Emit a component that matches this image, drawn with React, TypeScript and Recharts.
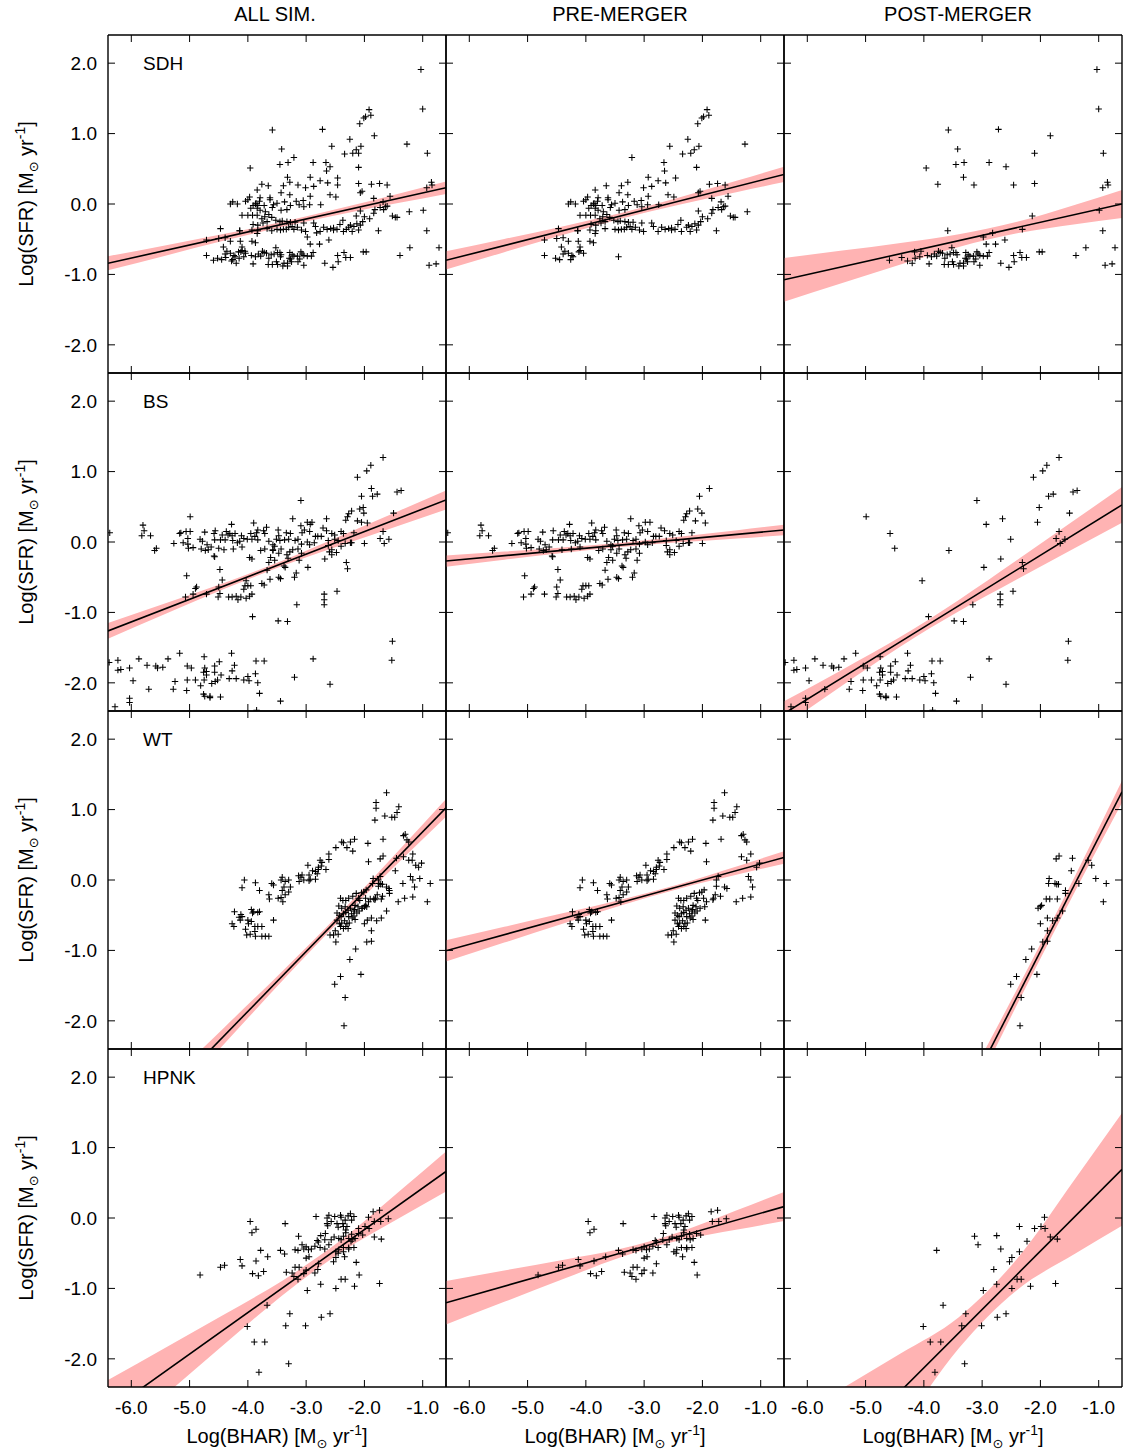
import React from 'react';
import { ComposedChart, XAxis, YAxis, Area, Line, Scatter } from 'recharts';

const FONT = '"Liberation Sans", Arial, Helvetica, sans-serif';
const X_DOMAIN: [number, number] = [-6.4, -0.6];
const Y_DOMAIN: [number, number] = [-2.4, 2.4];
const X_TICKS = [-6, -5, -4, -3, -2, -1];
const Y_TICKS = [-2, -1, 0, 1, 2];
const COLUMNS = ['ALL SIM.', 'PRE-MERGER', 'POST-MERGER'];
const SIMS = ['SDH', 'BS', 'WT', 'HPNK'];
const BAND_X = [-6.4, -5.4, -4.4, -3.4, -2.4, -1.4, -0.6];
const LINE_X = [-6.4, -0.6];

type P = [number, number];

// ---------- SDH ----------
const SDH_PRE: P[] = [
  [-1.92,1.34],[-1.98,1.24],[-2.01,1.22],[-1.89,1.26],[-2.08,1.14],
  [-2.25,0.92],[-2.06,0.82],[-2.14,0.77],[-2.20,0.72],[-2.34,0.71],[-2.56,0.82],[-1.27,0.85],[-2.10,0.52],[-3.21,0.66],[-2.66,0.59],[-2.65,0.47],[-2.46,0.37],[-2.93,0.38],[-2.76,0.33],[-2.63,0.30],[-2.87,0.25],[-3.01,0.23],[-3.28,0.31],[-3.39,0.26],[-3.65,0.26],[-3.84,0.20],[-3.43,0.16],[-3.28,0.13],[-3.62,0.09],[-3.62,0.06],[-3.79,0.09],[-3.80,0.04],[-3.97,0.10],[-4.00,0.06],[-4.04,0.04],[-4.18,0.00],[-4.26,0.03],[-4.30,0.00],
  [-3.87,0.00],[-3.83,-0.02],[-3.91,-0.02],[-3.86,0.01],[-3.95,-0.06],[-3.84,-0.06],
  [-3.72,-0.02],[-3.56,-0.01],[-3.58,-0.05],[-3.50,0.01],[-3.37,0.03],[-3.17,0.04],[-3.05,0.05],[-2.93,0.11],[-2.75,-0.01],[-2.59,0.13],[-2.49,0.10],[-3.27,-0.02],[-3.43,-0.09],[-3.33,-0.08],[-3.79,-0.09],[-2.94,-0.01],[-3.04,-0.04],[-3.12,-0.01],
  [-3.70,-0.11],[-3.64,-0.15],[-3.71,-0.18],[-3.76,-0.21],[-3.84,-0.16],
  [-3.59,-0.19],[-3.52,-0.23],[-3.45,-0.25],[-3.41,-0.24],[-3.33,-0.25],[-3.27,-0.26],[-3.19,-0.26],
  [-3.67,-0.25],[-3.74,-0.27],[-3.91,-0.29],[-3.83,-0.30],
  [-4.10,-0.16],[-4.00,-0.16],[-3.92,-0.16],
  [-4.14,-0.38],[-3.93,-0.37],[-3.84,-0.42],[-3.83,-0.38],
  [-3.67,-0.35],[-3.50,-0.36],[-3.44,-0.37],[-3.39,-0.36],[-3.34,-0.36],[-3.30,-0.33],[-3.24,-0.32],[-3.21,-0.36],[-3.15,-0.33],[-3.08,-0.37],[-3.01,-0.39],[-3.04,-0.27],[-2.87,-0.27],[-2.84,-0.32],[-2.76,-0.39],[-2.70,-0.33],[-2.64,-0.36],[-2.58,-0.35],[-2.53,-0.34],[-2.53,-0.37],[-2.47,-0.36],[-2.42,-0.29],[-2.37,-0.23],[-2.36,-0.39],[-2.27,-0.33],[-2.24,-0.30],[-2.21,-0.39],[-2.18,-0.32],[-2.13,-0.28],[-2.10,-0.37],[-2.07,-0.30],[-2.03,-0.25],[-2.00,-0.18],[-1.91,-0.21],[-1.84,-0.13],[-1.82,-0.08],[-1.76,-0.38],[-1.73,-0.05],[-1.68,0.03],[-1.67,-0.08],[-1.64,-0.04],[-1.61,-0.03],[-1.56,0.11],[-1.52,-0.17],[-1.47,-0.19],[-1.44,-0.19],[-1.23,-0.11],[-1.74,0.29],[-1.61,0.27],[-1.88,0.28],[-2.04,0.18],[-2.07,0.16],[-1.84,0.08],[-2.07,-0.10],
  [-4.71,-0.73],[-4.52,-0.77],[-4.45,-0.79],[-4.39,-0.71],[-4.30,-0.70],[-4.24,-0.73],[-4.22,-0.75],[-4.26,-0.79],[-4.36,-0.67],[-4.42,-0.61],[-4.30,-0.53],[-4.13,-0.53],[-4.10,-0.61],[-4.12,-0.68],[-4.04,-0.70],[-4.10,-0.66],[-3.87,-0.55],[-3.93,-0.53],[-3.44,-0.75],[-4.71,-0.51],[-4.50,-0.49],[-4.39,-0.48],[-4.47,-0.35],[-4.14,-0.38],
];
const SDH_POST: P[] = [
  [-1.03,1.91],[-1.00,1.35],[-3.58,1.05],[-2.72,1.06],[-1.83,0.97],[-3.42,0.78],[-2.10,0.72],[-0.92,0.72],[-3.96,0.51],[-3.45,0.56],[-3.31,0.59],[-2.88,0.59],[-2.59,0.53],[-3.32,0.38],[-3.76,0.28],[-3.14,0.27],[-2.46,0.27],[-2.10,0.29],[-0.85,0.31],[-0.84,0.27],[-0.93,0.23],[-0.99,-0.09],[-0.93,-0.38],[-2.14,-0.17],[-2.31,-0.36],[-3.59,-0.38],[-2.98,-0.47],[-2.82,-0.41],[-2.61,-0.51],[-2.93,-0.57],[-2.77,-0.57],[-0.72,-0.62],[-1.22,-0.62],[-1.39,-0.73],[-2.02,-0.68],[-1.97,-0.68],[-0.89,-0.87],[-0.77,-0.85],[-2.35,-0.69],[-2.46,-0.73],[-2.32,-0.76],[-2.24,-0.76],[-2.45,-0.82],[-2.54,-0.90],[-2.68,-0.84],
  [-4.59,-0.80],[-4.38,-0.76],[-4.28,-0.81],[-4.20,-0.84],[-4.15,-0.77],[-4.16,-0.68],[-4.05,-0.67],[-4.07,-0.75],[-3.94,-0.73],[-3.91,-0.85],[-3.87,-0.75],[-3.82,-0.71],[-3.75,-0.67],[-3.72,-0.69],[-3.78,-0.74],[-3.68,-0.70],[-3.64,-0.77],[-3.60,-0.72],[-3.52,-0.62],[-3.55,-0.71],[-3.51,-0.82],[-3.49,-0.69],[-3.45,-0.69],[-3.43,-0.72],[-3.65,-0.86],[-3.58,-0.86],[-3.49,-0.86],[-3.40,-0.88],[-3.38,-0.84],[-3.32,-0.84],[-3.29,-0.77],[-3.27,-0.78],[-3.28,-0.69],[-3.24,-0.72],[-3.21,-0.74],[-3.15,-0.74],[-3.09,-0.68],[-3.07,-0.71],[-3.04,-0.73],[-3.11,-0.78],[-3.04,-0.87],[-2.98,-0.74],[-2.91,-0.74],[-2.88,-0.69],[-3.32,-0.88],[-3.25,-0.82],[-3.14,-0.82],
];
// line values at x=-6.4 and x=-0.6: [all, pre, post]
const SDH_LINES = [[-0.842, 0.232], [-0.80, 0.42], [-1.077, 0.0]];
const SDH_BAND_LO = [
  [-0.942,-0.73,-0.52,-0.322,-0.146,0.016,0.142],
  [-0.93,-0.684,-0.44,-0.21,-0.01,0.172,0.312],
  [-1.387,-1.121,-0.859,-0.61,-0.416,-0.288,-0.199],
];
const SDH_BAND_HI = [
  [-0.742,-0.585,-0.424,-0.252,-0.058,0.15,0.32],
  [-0.67,-0.496,-0.318,-0.128,0.092,0.332,0.528],
  [-0.767,-0.661,-0.553,-0.43,-0.252,-0.01,0.199],
];

// ---------- BS ----------
const BS_PRE: P[] = [
  [-6.37,0.13],[-5.80,0.24],[-5.78,0.16],[-5.82,0.09],[-5.67,0.09],[-5.57,-0.09],[-5.60,-0.12],[-5.27,-0.02],[-5.17,0.12],[-5.15,0.13],[-5.06,0.15],[-4.99,0.15],[-5.11,-0.01],[-5.03,0.05],[-5.03,-0.03],[-5.02,-0.09],
  [-4.94,-0.08],[-4.82,0.04],[-4.78,0.01],[-4.80,-0.10],[-4.74,0.14],[-4.70,-0.04],[-4.68,-0.11],[-4.58,-0.20],[-4.56,0.16],[-4.57,0.03],[-4.63,-0.07],[-4.47,0.03],[-4.44,0.10],[-4.41,-0.11],[-4.39,0.03],[-4.37,0.15],[-4.34,0.10],[-4.31,0.12],[-4.28,0.25],[-4.27,0.09],[-4.26,0.02],[-4.25,-0.10],[-4.22,0.12],[-4.18,-0.01],[-4.14,0.01],[-4.11,0.09],[-4.10,-0.07],[-4.07,0.05],[-4.01,0.04],[-3.95,0.12],[-3.93,0.04],[-3.90,0.27],[-3.88,0.08],[-3.85,0.13],[-3.83,0.17],[-3.78,-0.12],[-3.73,0.16],[-3.71,0.12],[-3.68,0.21],[-3.64,0.01],[-3.57,-0.04],[-3.54,-0.06],[-3.48,0.17],[-3.47,0.09],[-3.45,0.02],[-3.37,0.03],[-3.34,0.13],[-3.30,0.04],[-3.27,0.12],[-3.23,0.33],[-3.19,0.02],[-3.14,0.04],[-3.09,0.23],[-3.07,0.13],[-3.03,0.17],[-2.98,0.28],[-2.94,0.15],[-2.90,0.28],[-2.86,-0.01],[-2.80,0.08],[-2.71,0.20],[-2.65,0.16],[-2.62,0.02],[-2.56,0.12],[-2.51,0.10],[-2.45,0.02],[-2.40,0.15],[-2.36,0.12],[-2.32,0.31],[-2.29,0.36],[-2.27,0.40],[-2.22,0.44],[-2.18,0.13],[-2.12,0.30],[-2.08,0.47],[-2.01,0.41],[-1.95,0.27],[-2.00,-0.02],[-2.05,0.65],[-1.88,0.76],[-2.22,-0.01],[-2.33,-0.02],
  [-4.57,-0.21],[-4.73,-0.12],[-3.83,0.03],[-3.97,-0.22],[-3.93,-0.24],[-3.71,-0.10],[-3.57,-0.11],[-3.51,0.04],[-3.33,-0.18],[-3.31,-0.23],[-2.60,-0.14],[-2.56,-0.18],[-2.48,-0.15],[-2.56,-0.11],[-2.62,-0.05],[-2.40,-0.06],[-2.24,-0.01],[-3.14,-0.10],[-3.08,-0.03],[-2.98,0.00],[-2.94,-0.04],[-2.84,0.08],[-2.74,0.08],
  [-5.05,-0.48],[-4.88,-0.64],[-4.90,-0.66],[-4.94,-0.74],[-4.71,-0.74],[-5.07,-0.78],[-4.48,-0.39],[-4.44,-0.54],[-4.50,-0.64],[-4.48,-0.73],[-4.51,-0.78],[-4.33,-0.78],[-4.27,-0.78],[-4.20,-0.77],[-4.17,-0.82],[-4.05,-0.62],[-4.00,-0.62],[-3.95,-0.62],[-3.93,-0.74],[-4.03,-0.80],[-3.97,-0.77],[-4.12,-0.78],[-4.07,-0.67],[-3.76,-0.59],[-3.72,-0.61],[-3.62,-0.53],[-3.67,-0.40],[-3.64,-0.29],[-3.61,-0.22],[-3.54,-0.26],[-3.47,-0.50],[-3.44,-0.52],[-3.38,-0.34],[-3.36,-0.36],[-3.20,-0.50],[-3.17,-0.44],[-3.12,-0.26],[-3.08,-0.16],[-3.28,-0.14],[-3.23,-0.11],[-3.43,-0.10],[-3.47,-0.16],
];
const BS_POST: P[] = [
  [-1.68,1.20],[-1.89,1.09],[-1.96,1.01],[-2.12,0.92],[-1.86,0.65],[-1.78,0.68],[-1.44,0.71],[-1.37,0.73],[-3.09,0.59],[-2.02,0.49],[-1.50,0.41],[-4.99,0.36],[-2.65,0.33],[-2.93,0.25],[-2.05,0.28],[-4.58,0.12],[-2.51,0.04],[-1.68,0.15],[-1.73,0.05],[-1.58,0.04],[-1.66,-0.02],[-4.50,-0.09],[-3.57,-0.12],[-2.68,-0.24],[-2.97,-0.36],[-2.31,-0.29],[-2.29,-0.38],[-4.03,-0.55],[-2.47,-0.70],[-2.69,-0.74],[-2.69,-0.82],[-2.69,-0.89],[-3.16,-0.89],[-3.92,-1.06],[-3.48,-1.12],[-3.32,-1.13],[-1.52,-1.41],[-1.53,-1.68],[-2.88,-1.66],[-3.20,-1.92],[-2.59,-2.02],[-3.44,-2.26],[-3.85,-2.39],
  [-6.38,-1.71],[-6.23,-1.68],[-6.23,-1.82],[-6.18,-1.81],[-6.03,-1.79],[-5.87,-1.66],[-5.73,-1.75],[-5.58,-1.76],[-5.55,-1.79],[-5.46,-1.78],[-5.37,-1.66],[-5.17,-1.58],[-5.04,-1.76],[-4.97,-1.79],[-4.75,-1.63],[-4.74,-1.79],[-4.76,-1.85],[-4.71,-1.84],[-4.57,-1.76],[-4.57,-1.85],[-4.49,-1.70],[-4.28,-1.58],[-4.23,-1.75],[-4.27,-1.83],[-5.97,-1.97],[-5.70,-2.09],[-5.28,-2.09],[-5.25,-1.98],[-5.04,-1.96],[-5.05,-2.11],[-4.90,-1.96],[-4.81,-2.04],[-4.75,-1.96],[-4.71,-1.89],[-4.62,-2.01],[-4.56,-1.98],[-4.52,-1.96],[-4.46,-1.89],[-4.32,-1.94],[-4.20,-1.94],[-4.07,-1.96],[-4.00,-1.91],[-3.98,-1.97],[-3.87,-1.87],[-3.86,-1.69],[-3.72,-1.69],[-3.83,-2.00],[-3.80,-2.15],[-4.76,-2.16],[-4.74,-2.19],[-4.65,-2.19],[-4.65,-2.21],[-4.47,-2.20],[-6.03,-2.22],[-6.03,-2.28],[-6.28,-2.34],
];
const BS_LINES = [[-1.263, 0.597], [-0.27, 0.17], [-2.437, 0.527]];
const BS_BAND_LO = [
  [-1.374,-1.016,-0.664,-0.339,-0.047,0.236,0.462],
  [-0.35,-0.252,-0.157,-0.072,-0.005,0.051,0.095],
  [-2.612,-2.038,-1.483,-0.985,-0.529,-0.082,0.272],
];
const BS_BAND_HI = [
  [-1.152,-0.868,-0.58,-0.263,0.087,0.444,0.732],
  [-0.19,-0.136,-0.079,-0.012,0.073,0.167,0.245],
  [-2.262,-1.814,-1.347,-0.823,-0.257,0.318,0.782],
];

// ---------- WT ----------
const WT_PRE: P[] = [
  [-1.62,1.24],[-1.80,1.10],[-1.80,1.02],[-1.82,0.85],[-1.65,0.91],[-1.53,0.89],[-1.48,0.89],[-1.44,0.96],[-1.41,1.04],
  [-1.33,0.63],[-1.30,0.65],[-1.27,0.57],[-1.24,0.54],[-1.68,0.58],[-1.94,0.52],[-1.33,0.33],[-1.17,0.37],[-1.24,0.28],[-1.07,0.18],[-1.02,0.24],[-1.21,0.05],[-1.17,0.00],[-1.14,-0.10],[-1.17,-0.24],[-1.31,-0.26],[-1.42,-0.31],[-1.58,-0.12],[-1.62,-0.10],[-1.69,-0.23],[-1.76,-0.09],[-1.76,0.00],[-1.73,0.05],[-1.82,-0.28],[-1.93,0.26],
  [-2.39,0.54],[-2.36,0.53],[-2.24,0.54],[-2.17,0.58],[-2.30,0.46],[-2.20,0.41],[-2.49,0.46],[-2.61,0.37],[-2.61,0.29],[-2.73,0.25],[-2.76,0.28],[-2.66,0.15],[-2.74,0.20],[-2.79,0.18],[-2.84,0.12],[-2.81,0.09],[-2.89,0.13],[-2.93,0.01],[-2.97,0.21],[-2.95,0.07],[-3.07,0.07],[-3.09,0.04],[-3.13,0.06],[-3.04,0.00],[-3.12,-0.02],[-2.95,-0.01],[-2.84,0.01],[-2.79,0.15],
  [-3.41,0.04],[-3.43,0.00],[-3.36,-0.02],[-3.30,0.00],[-3.27,-0.10],[-3.38,-0.10],[-3.41,-0.15],[-3.36,-0.21],[-3.43,-0.25],[-3.48,-0.26],[-3.59,-0.05],[-3.56,-0.07],[-3.64,-0.21],[-3.63,-0.27],[-3.40,-0.31],[-3.30,-0.17],[-3.80,-0.15],[-3.87,-0.04],[-4.06,0.00],[-4.10,-0.11],[-4.23,-0.45],[-4.12,-0.49],[-4.15,-0.53],[-4.13,-0.57],[-4.10,-0.52],[-4.00,-0.57],[-3.94,-0.42],[-3.92,-0.47],[-3.90,-0.45],[-3.83,-0.46],[-3.80,-0.45],[-3.99,-0.62],[-3.94,-0.59],[-3.88,-0.66],[-3.83,-0.66],[-3.76,-0.66],[-4.27,-0.62],[-4.24,-0.66],[-4.04,-0.70],[-4.02,-0.78],[-3.88,-0.73],[-3.96,-0.77],[-3.87,-0.80],[-3.76,-0.80],[-3.70,-0.80],[-3.64,-0.80],[-3.56,-0.57],
  [-2.41,-0.26],[-2.37,-0.29],[-2.32,-0.29],[-2.27,-0.26],[-2.20,-0.23],[-2.14,-0.19],[-2.10,-0.26],[-2.05,-0.18],[-2.01,-0.17],[-1.97,-0.14],[-1.98,-0.26],[-1.96,-0.38],[-1.93,-0.31],[-1.81,-0.26],[-1.78,-0.21],[-2.44,-0.37],[-2.39,-0.40],[-2.33,-0.38],[-2.28,-0.43],[-2.24,-0.40],[-2.18,-0.44],[-2.11,-0.38],[-2.09,-0.44],[-2.04,-0.40],[-2.47,-0.47],[-2.43,-0.50],[-2.40,-0.52],[-2.36,-0.48],[-2.32,-0.46],[-2.27,-0.52],[-2.22,-0.48],[-2.18,-0.51],[-2.16,-0.56],[-2.13,-0.47],[-2.47,-0.57],[-2.43,-0.62],[-2.39,-0.61],[-2.34,-0.58],[-2.30,-0.62],[-2.26,-0.61],[-2.21,-0.54],[-2.41,-0.66],[-2.36,-0.69],[-2.32,-0.66],[-2.50,-0.72],[-2.45,-0.77],[-2.53,-0.78],[-2.59,-0.78],[-2.49,-0.88],[-2.28,-0.69],[-2.17,-0.42],[-1.95,-0.57],[-2.08,-0.29],[-2.16,-0.36],
];
const WT_POST: P[] = [
  [-1.68,0.34],[-1.73,0.30],[-1.45,0.31],[-1.47,0.13],[-1.18,0.28],[-1.12,0.21],[-1.05,0.02],[-0.87,-0.05],[-0.92,-0.31],[-1.34,-0.05],[-1.85,0.02],[-1.86,-0.05],[-1.75,-0.05],[-1.72,-0.06],[-1.69,-0.06],[-1.57,-0.15],[-1.57,-0.19],[-1.90,-0.27],[-1.84,-0.27],[-1.71,-0.27],[-1.98,-0.36],[-2.00,-0.38],[-2.04,-0.40],[-1.62,-0.44],[-1.88,-0.54],[-1.79,-0.58],[-1.71,-0.54],[-2.00,-0.62],[-1.88,-0.72],[-1.96,-0.88],[-1.88,-0.87],[-2.15,-0.98],[-2.25,-1.13],[-2.06,-1.34],[-2.41,-1.37],[-2.51,-1.48],[-2.33,-1.67],[-2.35,-2.07],
];
const WT_LINES = [[-3.906, 1.024], [-1.005, 0.32], [-8.127, 1.252]];
const WT_BAND_LO = [
  [-4.132,-3.226,-2.322,-1.424,-0.557,0.258,0.898],
  [-1.156,-0.889,-0.623,-0.361,-0.123,0.077,0.231],
  [-8.553,-6.847,-5.144,-3.447,-1.769,-0.152,1.096],
];
const WT_BAND_HI = [
  [-3.68,-2.886,-2.09,-1.288,-0.455,0.43,1.15],
  [-0.854,-0.665,-0.473,-0.279,-0.059,0.197,0.409],
  [-7.701,-6.173,-4.642,-3.105,-1.549,0.068,1.408],
];

// ---------- HPNK ----------
const HPNK_PRE: P[] = [
  [-4.82,-0.81],[-4.47,-0.70],[-4.40,-0.67],[-4.13,-0.59],[-4.10,-0.68],[-3.96,-0.05],[-3.93,-0.21],[-3.86,-0.16],[-3.92,-0.79],[-3.82,-0.82],[-3.73,-0.76],[-3.86,-0.61],[-3.66,-0.55],[-3.44,-0.46],[-3.37,-0.51],[-3.36,-0.08],
  [-3.34,-0.77],[-3.24,-0.78],[-3.21,-0.83],[-3.14,-0.87],[-3.19,-0.70],[-3.12,-0.70],[-3.04,-0.79],[-3.00,-0.74],[-3.00,-0.57],[-2.95,-0.55],[-2.85,-0.78],[-2.79,-0.65],[-3.19,-0.45],[-3.14,-0.46],[-3.04,-0.44],[-3.00,-0.41],[-2.96,-0.45],[-2.91,-0.44],[-2.85,-0.40],[-2.76,-0.42],[-2.81,-0.32],[-2.79,-0.34],[-2.68,-0.31],[-2.61,-0.38],[-2.57,-0.31],[-2.52,-0.27],[-2.44,-0.29],[-2.40,-0.31],[-2.36,-0.26],[-2.32,-0.21],[-2.27,-0.29],[-2.21,-0.31],[-2.16,-0.29],[-2.22,-0.23],[-2.10,-0.22],[-2.03,-0.24],[-2.67,-0.22],[-2.64,-0.08],[-2.63,-0.11],[-2.61,0.04],[-2.57,-0.05],[-2.51,0.02],[-2.47,-0.08],[-2.45,-0.13],[-2.41,0.04],[-2.40,0.01],[-2.37,-0.08],[-2.33,-0.03],[-2.30,-0.12],[-2.28,0.03],[-2.24,0.06],[-2.22,-0.03],[-2.18,0.02],[-2.32,-0.17],[-2.27,-0.42],[-2.18,-0.42],[-2.36,-0.42],[-2.49,-0.48],[-2.45,-0.50],[-2.44,-0.45],[-2.34,-0.55],[-2.27,-0.44],[-2.14,-0.63],[-2.09,-0.81],[-2.83,0.02],[-2.64,0.00],
  [-1.85,0.09],[-1.74,0.11],[-1.83,-0.05],[-1.72,-0.05],[-1.59,-0.01],
];
const HPNK_POST: P[] = [
  [-1.93,0.01],[-2.36,-0.12],[-2.10,-0.15],[-1.99,-0.12],[-1.92,-0.15],[-3.13,-0.26],[-3.07,-0.38],[-2.75,-0.25],[-1.83,-0.27],[-1.71,-0.30],[-2.23,-0.33],[-2.68,-0.44],[-3.78,-0.46],[-2.36,-0.48],[-2.49,-0.56],[-2.53,-0.62],[-2.80,-0.73],[-2.40,-0.87],[-2.33,-0.87],[-2.75,-0.94],[-1.74,-0.93],[-2.98,-1.03],[-2.49,-1.00],[-2.17,-0.97],[-3.67,-1.24],[-3.28,-1.36],[-2.59,-1.36],[-2.74,-1.41],[-3.35,-1.53],[-3.01,-1.53],[-4.01,-1.54],[-3.89,-1.76],[-3.71,-1.76],[-3.30,-2.07],[-3.81,-2.19],
];
const HPNK_LINES = [[-2.758, 0.661], [-1.204, 0.162], [-4.117, 0.691]];
const HPNK_BAND_LO = [
  [-3.214,-2.501,-1.791,-1.092,-0.486,0.001,0.377],
  [-1.514,-1.191,-0.871,-0.556,-0.321,-0.164,-0.044],
  [-5.324,-4.156,-2.992,-1.851,-1.022,-0.505,-0.109],
];
const HPNK_BAND_HI = [
  [-2.302,-1.835,-1.367,-0.886,-0.314,0.379,0.945],
  [-0.894,-0.745,-0.595,-0.438,-0.203,0.112,0.368],
  [-2.91,-2.42,-1.926,-1.409,-0.58,0.561,1.491],
];

const ROWS = [
  { pre: SDH_PRE, post: SDH_POST, lines: SDH_LINES, lo: SDH_BAND_LO, hi: SDH_BAND_HI },
  { pre: BS_PRE, post: BS_POST, lines: BS_LINES, lo: BS_BAND_LO, hi: BS_BAND_HI },
  { pre: WT_PRE, post: WT_POST, lines: WT_LINES, lo: WT_BAND_LO, hi: WT_BAND_HI },
  { pre: HPNK_PRE, post: HPNK_POST, lines: HPNK_LINES, lo: HPNK_BAND_LO, hi: HPNK_BAND_HI },
];

// ---------- layout ----------
const PANEL = 338;
const LEFT0 = 108;
const TOP0 = 35;
const TICK = 7;
const BAND_COLOR = '#ffb3b3';
const AXIS_LINE = { stroke: '#000', strokeWidth: 1.4 };

const plus = (props: any) => {
  const { cx, cy } = props;
  if (cx == null || cy == null || isNaN(cx) || isNaN(cy)) return <g />;
  return (
    <path
      d={`M${cx - 3.2},${cy}H${cx + 3.2}M${cx},${cy - 3.2}V${cy + 3.2}`}
      stroke="#000"
      strokeWidth={1.05}
      fill="none"
    />
  );
};

const bottomTick = (showLabel: boolean) => (props: any) => {
  const { x, y, payload } = props;
  return (
    <g>
      <line x1={x} y1={y} x2={x} y2={y - TICK} stroke="#000" strokeWidth={1} />
      {showLabel && (
        <text x={x} y={y + 26.5} textAnchor="middle" fontSize={19} fontFamily={FONT} fill="#000">
          {Number(payload.value).toFixed(1)}
        </text>
      )}
    </g>
  );
};
const topTick = (props: any) => {
  const { x, y } = props;
  return <line x1={x} y1={y} x2={x} y2={y + TICK} stroke="#000" strokeWidth={1} />;
};
const leftTick = (showLabel: boolean) => (props: any) => {
  const { x, y, payload } = props;
  return (
    <g>
      <line x1={x} y1={y} x2={x + TICK} y2={y} stroke="#000" strokeWidth={1} />
      {showLabel && (
        <text x={x - 11} y={y + 6.8} textAnchor="end" fontSize={19} fontFamily={FONT} fill="#000">
          {Number(payload.value).toFixed(1)}
        </text>
      )}
    </g>
  );
};
const rightTick = (props: any) => {
  const { x, y } = props;
  return <line x1={x} y1={y} x2={x - TICK} y2={y} stroke="#000" strokeWidth={1} />;
};

function Panel({ r, c, points, line, lo, hi }: { r: number; c: number; points: P[]; line: number[]; lo: number[]; hi: number[] }) {
  const LW = c === 0 ? 100 : 1;
  const BH = r === 3 ? 36 : 1;
  const TH = 1;
  const RW = 1;
  const width = LW + PANEL + RW;
  const height = TH + PANEL + BH;
  const left = LEFT0 + PANEL * c - LW;
  const top = TOP0 + PANEL * r - TH;
  const pts = points.map(([x, y]) => ({ x, y }));
  const lineData = LINE_X.map((x, i) => ({ x, y: line[i] }));
  const bandData = BAND_X.map((x, i) => ({ x, band: [lo[i], hi[i]] }));
  return (
    <div style={{ position: 'absolute', left, top, width, height }}>
      <ComposedChart width={width} height={height} margin={{ top: 0, right: 0, bottom: 0, left: 0 }}>
        <XAxis
          xAxisId="b" orientation="bottom" type="number" dataKey="x" domain={X_DOMAIN} ticks={X_TICKS}
          allowDataOverflow height={BH} interval={0} tickSize={0} tickMargin={0} tickLine={false}
          axisLine={AXIS_LINE} tick={bottomTick(r === 3)}
        />
        <XAxis
          xAxisId="t" orientation="top" type="number" dataKey="x" domain={X_DOMAIN} ticks={X_TICKS}
          allowDataOverflow height={TH} interval={0} tickSize={0} tickMargin={0} tickLine={false}
          axisLine={AXIS_LINE} tick={topTick}
        />
        <YAxis
          yAxisId="l" orientation="left" type="number" dataKey="y" domain={Y_DOMAIN} ticks={Y_TICKS}
          allowDataOverflow width={LW} interval={0} tickSize={0} tickMargin={0} tickLine={false}
          axisLine={AXIS_LINE} tick={leftTick(c === 0)}
        />
        <YAxis
          yAxisId="r" orientation="right" type="number" dataKey="y" domain={Y_DOMAIN} ticks={Y_TICKS}
          allowDataOverflow width={RW} interval={0} tickSize={0} tickMargin={0} tickLine={false}
          axisLine={AXIS_LINE} tick={rightTick}
        />
        <Area
          xAxisId="b" yAxisId="l" data={bandData} dataKey="band" type="monotone"
          stroke="none" fill={BAND_COLOR} fillOpacity={1} isAnimationActive={false}
        />
        <Line
          xAxisId="b" yAxisId="l" data={lineData} dataKey="y" type="linear"
          stroke="#000" strokeWidth={1.6} dot={false} activeDot={false} isAnimationActive={false}
        />
        <Scatter xAxisId="b" yAxisId="l" data={pts} shape={plus} isAnimationActive={false} />
      </ComposedChart>
    </div>
  );
}

function Titles() {
  const sub = { fontSize: 13, fontFamily: '"DejaVu Sans", sans-serif' };
  return (
    <svg
      width={1123}
      height={1454}
      style={{ position: 'absolute', left: 0, top: 0, pointerEvents: 'none' }}
    >
      <g fontFamily={FONT} fill="#000" fontSize={20}>
        {COLUMNS.map((t, c) => (
          <text key={t} x={LEFT0 + PANEL * c + 169 + (c === 0 ? -2 : 5)} y={21} textAnchor="middle">
            {t}
          </text>
        ))}
        {SIMS.map((s, r) => (
          <text key={s} x={143} y={70 + PANEL * r} fontSize={19}>
            {s}
          </text>
        ))}
        {SIMS.map((s, r) => (
          <text key={'yl' + s} transform={`translate(33, ${TOP0 + PANEL * r + 169}) rotate(-90)`} textAnchor="middle">
            Log(SFR) [M
            <tspan dy={5} {...sub}>⊙</tspan>
            <tspan dy={-5}> yr</tspan>
            <tspan dy={-8} fontSize={14}>-1</tspan>
            <tspan dy={8}>]</tspan>
          </text>
        ))}
        {COLUMNS.map((t, c) => (
          <text key={'xl' + t} x={LEFT0 + PANEL * c + 169} y={1443} textAnchor="middle">
            Log(BHAR) [M
            <tspan dy={5} {...sub}>⊙</tspan>
            <tspan dy={-5}> yr</tspan>
            <tspan dy={-8} fontSize={14}>-1</tspan>
            <tspan dy={8}>]</tspan>
          </text>
        ))}
      </g>
    </svg>
  );
}

export default function App() {
  return (
    <div style={{ position: 'absolute', left: 0, top: 0, width: 1123, height: 1454, background: '#fff' }}>
      {ROWS.map((row, r) => {
        const sets: P[][] = [[...row.pre, ...row.post], row.pre, row.post];
        return sets.map((pts, c) => (
          <Panel key={`${r}-${c}`} r={r} c={c} points={pts} line={row.lines[c]} lo={row.lo[c]} hi={row.hi[c]} />
        ));
      })}
      <Titles />
    </div>
  );
}
